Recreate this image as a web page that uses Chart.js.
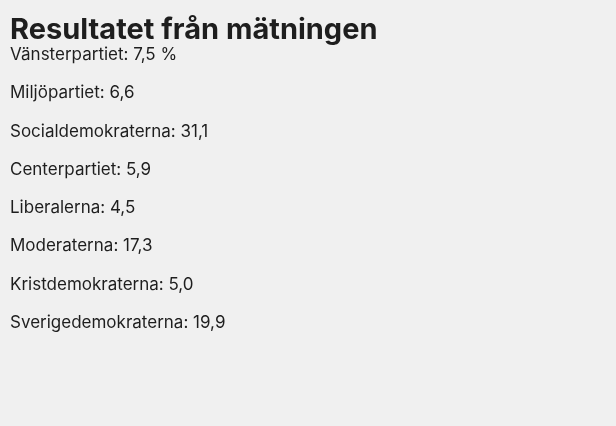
<!DOCTYPE html>
<html><head><meta charset="utf-8">
<script src="https://cdn.jsdelivr.net/npm/chart.js@4/dist/chart.umd.min.js"></script>
<style>html,body{margin:0;padding:0;background:#f0f0f0;}#wrap{width:616px;height:426px;}</style>
</head><body><div id="wrap"><canvas id="c" width="616" height="426"></canvas></div>
<script>
const parties = ["Vänsterpartiet","Miljöpartiet","Socialdemokraterna","Centerpartiet","Liberalerna","Moderaterna","Kristdemokraterna","Sverigedemokraterna"];
const valueLabels = ["7,5 %","6,6","31,1","5,9","4,5","17,3","5,0","19,9"];
const values = [7.5,6.6,31.1,5.9,4.5,17.3,5.0,19.9];
const labels = parties.map((p,i)=>p+": "+valueLabels[i]);
new Chart(document.getElementById('c'),{
  type:'bar',
  data:{labels:labels,datasets:[{data:values,backgroundColor:'rgba(0,0,0,0)',borderWidth:0}]},
  options:{
    indexAxis:'y',responsive:false,animation:false,
    layout:{padding:{left:10,right:10,top:0,bottom:84}},
    plugins:{legend:{display:false},tooltip:{enabled:false},
      title:{display:true,text:'Resultatet från mätningen',align:'start',color:'#1e1e1e',
        font:{family:'Inter',size:29,weight:'bold',lineHeight:1.0},padding:{top:16,bottom:-9}}},
    scales:{
      x:{display:false,min:0,max:35},
      y:{grid:{display:false},border:{display:false},
        ticks:{crossAlign:'far',color:'#1e1e1e',padding:0,font:{family:'Inter',size:17}}}
    }
  }
});
</script></body></html>
